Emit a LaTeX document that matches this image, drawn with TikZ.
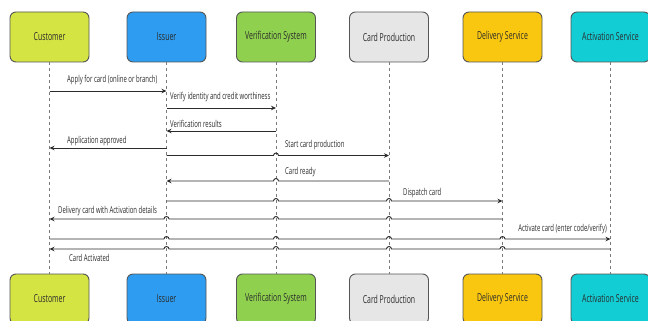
\documentclass[tikz,border=0pt]{standalone}
\usepackage{fontspec}
\setmainfont[FakeStretch=0.63]{Open Sans}
\usetikzlibrary{arrows.meta,calc}
\definecolor{cCust}{HTML}{D4E443}
\definecolor{cIss}{HTML}{2E9CF0}
\definecolor{cVer}{HTML}{8FD14F}
\definecolor{cCP}{HTML}{E6E6E6}
\definecolor{cDel}{HTML}{FAC710}
\definecolor{cAct}{HTML}{12CDD4}
\definecolor{edgec}{HTML}{555555}
\definecolor{ink}{HTML}{2B2B2B}
\definecolor{lifec}{HTML}{7A7A7A}
\begin{document}
\begin{tikzpicture}[x=1pt,y=-1pt,
  actor/.style={draw=edgec,line width=0.9pt,rounded corners=6pt,minimum width=79pt,minimum height=50pt,inner sep=0pt,text=ink,font=\fontsize{11}{13}\selectfont},
  life/.style={draw=lifec,line width=0.6pt,dash pattern=on 3pt off 3pt},
  msg/.style={draw=ink,line width=0.9pt,-{Stealth[length=5pt,width=4.5pt]}},
  msglabel/.style={anchor=west,inner sep=0pt,text=ink,font=\fontsize{9.5}{11}\selectfont}]
\useasboundingbox (0,0) rectangle (648,321);
% top actors
\node[actor,fill=cCust] (cust) at (49.5,37) {Customer};
\node[actor,fill=cIss] (iss) at (166.5,37) {Issuer};
\node[actor,fill=cVer] (ver) at (276,37) {Verification System};
\node[actor,fill=cCP] (cp) at (389,37) {Card Production};
\node[actor,fill=cDel] (del) at (502.5,37) {Delivery Service};
\node[actor,fill=cAct] (act) at (610.5,37) {Activation Service};
% bottom actors
\node[actor,fill=cCust] (custb) at (49.5,299) {Customer};
\node[actor,fill=cIss] (issb) at (166.5,299) {Issuer};
\node[actor,fill=cVer] (verb) at (276,299) {Verification System};
\node[actor,fill=cCP] (cpb) at (389,299) {Card Production};
\node[actor,fill=cDel] (delb) at (502.5,299) {Delivery Service};
\node[actor,fill=cAct] (actb) at (610.5,299) {Activation Service};
% lifelines
\draw[life] (cust.south) -- (custb.north);
\draw[life] (iss.south) -- (issb.north);
\draw[life] (ver.south) -- (verb.north);
\draw[life] (cp.south) -- (cpb.north);
\draw[life] (del.south) -- (delb.north);
\draw[life] (act.south) -- (actb.north);
% message rows
\coordinate (m1) at (0,91);
\coordinate (m2) at (0,108);
\coordinate (m3) at (0,131);
\coordinate (m4) at (0,148);
\coordinate (m5) at (0,155.5);
\coordinate (m6) at (0,181);
\coordinate (m7) at (0,201);
\coordinate (m8) at (0,219);
\coordinate (m9) at (0,239);
\coordinate (m10) at (0,249);
% messages
\draw[msg] (cust |- m1) -- (iss |- m1);
\node[msglabel] (l1) at (67,80) {Apply for card (online or branch)};
\draw[msg] (iss |- m2) -- (ver |- m2);
\node[msglabel] (l2) at (170,97) {Verify identity and credit worthiness};
\draw[msg] (ver |- m3) -- (iss |- m3);
\node[msglabel] (l3) at (170,124) {Verification results};
\draw[msg] (iss |- m4) -- (cust |- m4);
\node[msglabel] (l4) at (67,141) {Application approved};
\draw[msg] (iss |- m5) -- ($(ver |- m5)+(-2.5,0)$) arc[start angle=180,end angle=0,radius=2.5pt] -- (cp |- m5);
\node[msglabel] (l5) at (285,145) {Start card production};
\draw[msg] (cp |- m6) -- ($(ver |- m6)+(2.5,0)$) arc[start angle=0,end angle=180,radius=2.5pt] -- (iss |- m6);
\node[msglabel] (l6) at (285,172) {Card ready};
\draw[msg] (iss |- m7) -- ($(ver |- m7)+(-2.5,0)$) arc[start angle=180,end angle=0,radius=2.5pt]
  -- ($(cp |- m7)+(-2.5,0)$) arc[start angle=180,end angle=0,radius=2.5pt] -- (del |- m7);
\node[msglabel] (l7) at (403,193) {Dispatch card};
\draw[msg] (del |- m8) -- ($(cp |- m8)+(2.5,0)$) arc[start angle=0,end angle=180,radius=2.5pt]
  -- ($(ver |- m8)+(2.5,0)$) arc[start angle=0,end angle=180,radius=2.5pt]
  -- ($(iss |- m8)+(2.5,0)$) arc[start angle=0,end angle=180,radius=2.5pt] -- (cust |- m8);
\node[msglabel] (l8) at (58,211) {Delivery card with Activation details};
\draw[msg] (cust |- m9) -- ($(iss |- m9)+(-2.5,0)$) arc[start angle=180,end angle=0,radius=2.5pt]
  -- ($(ver |- m9)+(-2.5,0)$) arc[start angle=180,end angle=0,radius=2.5pt]
  -- ($(cp |- m9)+(-2.5,0)$) arc[start angle=180,end angle=0,radius=2.5pt]
  -- ($(del |- m9)+(-2.5,0)$) arc[start angle=180,end angle=0,radius=2.5pt] -- (act |- m9);
\node[msglabel,anchor=east] (l9) at (607,229) {Activate card (enter code/verify)};
\draw[msg] (act |- m10) -- ($(del |- m10)+(2.5,0)$) arc[start angle=0,end angle=180,radius=2.5pt]
  -- ($(cp |- m10)+(2.5,0)$) arc[start angle=0,end angle=180,radius=2.5pt]
  -- ($(ver |- m10)+(2.5,0)$) arc[start angle=0,end angle=180,radius=2.5pt]
  -- ($(iss |- m10)+(2.5,0)$) arc[start angle=0,end angle=180,radius=2.5pt] -- (cust |- m10);
\node[msglabel] (l10) at (69,258) {Card Activated};
\end{tikzpicture}
\end{document}
